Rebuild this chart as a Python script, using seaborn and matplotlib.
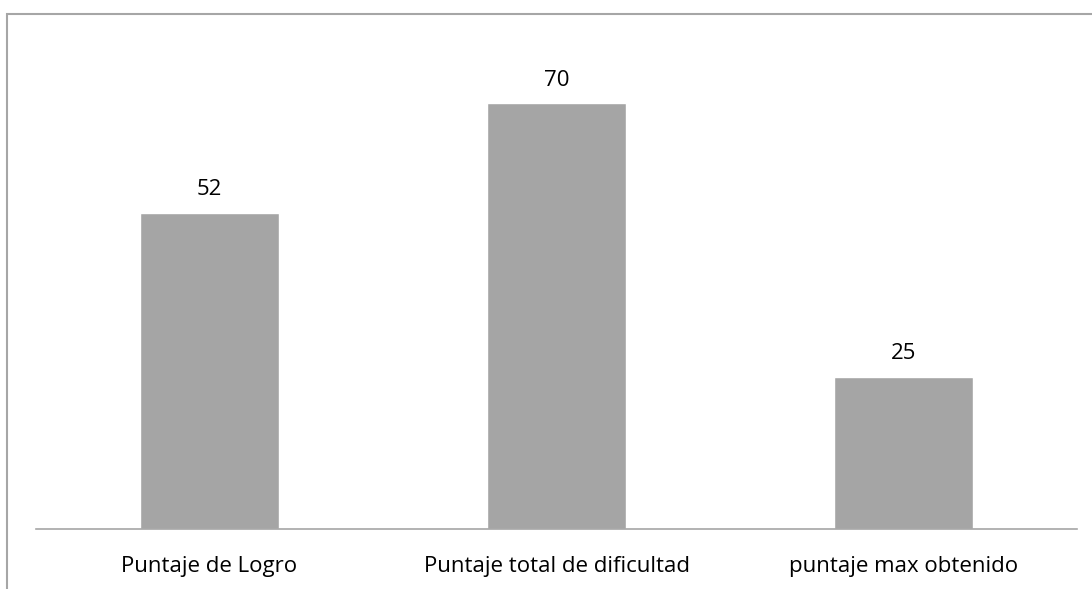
import pandas as pd
import matplotlib.pyplot as plt
import matplotlib.patches as mpatches
import seaborn as sns

categories = ['Puntaje de Logro', 'Puntaje total de dificultad', 'puntaje max obtenido']
values = [52, 70, 25]

df = pd.DataFrame({'categoria': categories, 'puntaje': values})

sns.set_style('white')
plt.rcParams['font.family'] = ['Open Sans', 'DejaVu Sans']

fig = plt.figure(figsize=(10.92, 5.89), dpi=100)
ax = fig.add_axes([36 / 1092, 1 - 529 / 589, 1041 / 1092, 499 / 589])

sns.barplot(data=df, x='categoria', y='puntaje', color='#A5A5A5', width=0.4,
            saturation=1, ax=ax)

for c in ax.containers:
    ax.bar_label(c, padding=9, fontsize=16, color='#000000')

ax.set_xlim(-0.5, 2.5)
ax.set_ylim(0, 82)
ax.set_xlabel('')
ax.set_ylabel('')
ax.set_yticks([])
ax.tick_params(axis='x', length=0, pad=19.5, labelsize=16, labelcolor='#000000')
for s in ['top', 'right', 'left']:
    ax.spines[s].set_visible(False)
ax.spines['bottom'].set_color('#A6A6A6')
ax.spines['bottom'].set_linewidth(1.2)

# marco del grafico (cortado a la derecha y abajo)
border = mpatches.Rectangle((7 / 1092, -0.2), 1.2, 1.2 - 14 / 589,
                            transform=fig.transFigure, fill=False,
                            edgecolor='#A6A6A6', linewidth=1.5, clip_on=False)
fig.patches.append(border)

fig.savefig('out.png', dpi=100)
